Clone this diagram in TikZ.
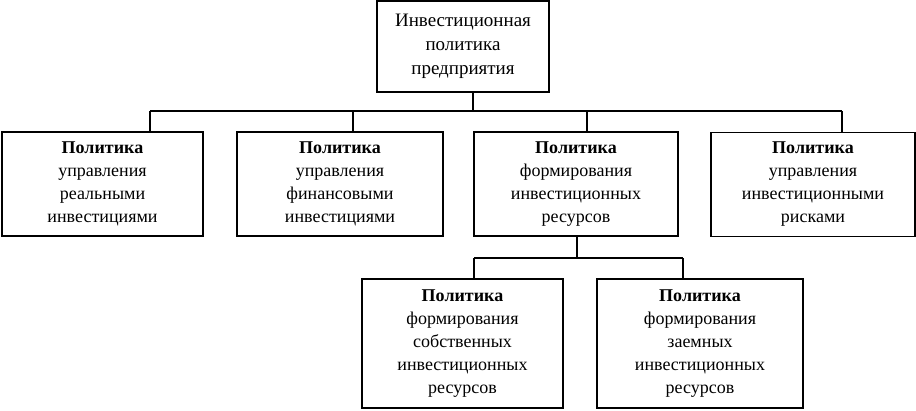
\documentclass[tikz,border=0pt]{standalone}
\usepackage{fontspec}
\setmainfont{Liberation Serif}
\usetikzlibrary{positioning,calc}

\begin{document}
\begin{tikzpicture}[x=1pt,y=-1pt,
  topbox/.style={rectangle,draw=black,line width=1.4pt,align=center,inner sep=0pt,
    font=\fontsize{19}{24}\selectfont,minimum width=172pt,minimum height=91pt},
  polbox/.style={rectangle,draw=black,line width=1.4pt,align=center,inner sep=0pt,
    font=\fontsize{18}{23}\selectfont,minimum width=203pt,minimum height=104pt},
  subbox/.style={polbox,minimum height=129pt},
  link/.style={draw=black,line width=2.2pt}
]
\useasboundingbox (0,0) rectangle (916,410);
% boxes
\node[topbox] (inv) at (463,46.5) {Инвестиционная\\политика\\предприятия};
\node[polbox,minimum width=201pt] (real) at (102.5,184) {\textbf{Политика}\\управления\\реальными\\инвестициями};
\node[polbox,minimum width=206pt] (fin) at (340,184) {\textbf{Политика}\\управления\\финансовыми\\инвестициями};
\node[polbox,minimum width=204pt] (res) at (576,184) {\textbf{Политика}\\формирования\\инвестиционных\\ресурсов};
\node[polbox,minimum width=204pt] (risk) at (813,184.5) {\textbf{Политика}\\управления\\инвестиционными\\рисками};
\node[subbox,minimum width=201pt] (own) at (462.5,343.5) {\textbf{Политика}\\формирования\\собственных\\инвестиционных\\ресурсов};
\node[subbox,minimum width=206pt] (loan) at (700,343.5) {\textbf{Политика}\\формирования\\заемных\\инвестиционных\\ресурсов};
% junctions
\coordinate (t0) at (473,111);
\coordinate (t1) at (150,111);  \coordinate (t2) at (353,111);
\coordinate (t3) at (587,111);  \coordinate (t4) at (842,111);
\coordinate (s0) at (577,258);
\coordinate (s1) at (474,258);  \coordinate (s2) at (683,258);
% connectors
\draw[link] (inv.south -| t0) -- (t0);
\draw[link] (t1) -- (t4);
\foreach \j/\b in {t1/real,t2/fin,t3/res,t4/risk}
  \draw[link] (\j) -- (\b.north -| \j);
\draw[link] (res.south -| s0) -- (s0);
\draw[link] (s1) -- (s2);
\foreach \j/\b in {s1/own,s2/loan}
  \draw[link] (\j) -- (\b.north -| \j);
\end{tikzpicture}
\end{document}
